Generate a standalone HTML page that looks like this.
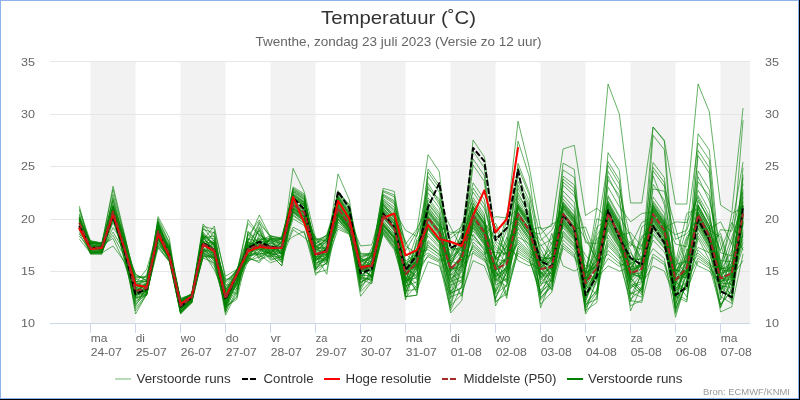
<!DOCTYPE html><html><head><meta charset="utf-8"><title>Temperatuur</title>
<style>html,body{margin:0;padding:0;background:#fff;}body{width:800px;height:400px;overflow:hidden;}svg{display:block;font-family:"Liberation Sans",sans-serif;}</style></head><body>
<svg width="800" height="400" viewBox="0 0 800 400">
<rect x="0" y="0" width="800" height="400" fill="#000"/>
<rect x="0" y="0" width="799" height="399" fill="#8db3ea"/>
<rect x="1" y="1" width="797" height="397" fill="#fff"/>
<rect x="90.5" y="61.5" width="45" height="262" fill="#f2f2f2"/>
<rect x="180.5" y="61.5" width="45" height="262" fill="#f2f2f2"/>
<rect x="270.5" y="61.5" width="45" height="262" fill="#f2f2f2"/>
<rect x="360.5" y="61.5" width="45" height="262" fill="#f2f2f2"/>
<rect x="450.5" y="61.5" width="45" height="262" fill="#f2f2f2"/>
<rect x="540.5" y="61.5" width="45" height="262" fill="#f2f2f2"/>
<rect x="630.5" y="61.5" width="45" height="262" fill="#f2f2f2"/>
<rect x="720.5" y="61.5" width="29.5" height="262" fill="#f2f2f2"/>
<path d="M50 61.5 H750" stroke="#e6e6e6" stroke-width="1"/>
<path d="M50 114.5 H750" stroke="#e6e6e6" stroke-width="1"/>
<path d="M50 166.5 H750" stroke="#e6e6e6" stroke-width="1"/>
<path d="M50 219.5 H750" stroke="#e6e6e6" stroke-width="1"/>
<path d="M50 271.5 H750" stroke="#e6e6e6" stroke-width="1"/>
<path d="M50 323.5 H750" stroke="#ccd6eb" stroke-width="1"/>
<path d="M90.5 323.5 V332.8" stroke="#ccd6eb" stroke-width="1"/>
<path d="M135.5 323.5 V332.8" stroke="#ccd6eb" stroke-width="1"/>
<path d="M180.5 323.5 V332.8" stroke="#ccd6eb" stroke-width="1"/>
<path d="M225.5 323.5 V332.8" stroke="#ccd6eb" stroke-width="1"/>
<path d="M270.5 323.5 V332.8" stroke="#ccd6eb" stroke-width="1"/>
<path d="M315.5 323.5 V332.8" stroke="#ccd6eb" stroke-width="1"/>
<path d="M360.5 323.5 V332.8" stroke="#ccd6eb" stroke-width="1"/>
<path d="M405.5 323.5 V332.8" stroke="#ccd6eb" stroke-width="1"/>
<path d="M450.5 323.5 V332.8" stroke="#ccd6eb" stroke-width="1"/>
<path d="M495.5 323.5 V332.8" stroke="#ccd6eb" stroke-width="1"/>
<path d="M540.5 323.5 V332.8" stroke="#ccd6eb" stroke-width="1"/>
<path d="M585.5 323.5 V332.8" stroke="#ccd6eb" stroke-width="1"/>
<path d="M630.5 323.5 V332.8" stroke="#ccd6eb" stroke-width="1"/>
<path d="M675.5 323.5 V332.8" stroke="#ccd6eb" stroke-width="1"/>
<path d="M720.5 323.5 V332.8" stroke="#ccd6eb" stroke-width="1"/>
<g fill="none" stroke="#008000" stroke-width="1" stroke-opacity="0.6" stroke-linejoin="round">
<path d="M79.30 218.32 L90.55 243.34 L101.80 243.92 L113.05 206.40 L124.30 245.28 L135.55 274.24 L146.80 280.88 L158.05 233.06 L169.30 259.96 L180.55 304.67 L191.80 298.10 L203.05 237.74 L214.30 250.14 L225.55 307.34 L236.80 296.95 L248.05 231.49 L259.30 243.40 L270.55 254.47 L281.80 265.86 L293.05 208.32 L304.30 216.80 L315.55 269.63 L326.80 255.97 L338.05 209.66 L349.30 225.94 L360.55 268.64 L371.80 254.50 L383.05 223.01 L394.30 236.11 L405.55 296.67 L416.80 295.20 L428.05 224.42 L439.30 238.78 L450.55 293.22 L461.80 287.78 L473.05 219.65 L484.30 236.00 L495.55 270.97 L506.80 218.70 L518.05 121.24 L529.30 167.35 L540.55 229.18 L551.80 226.04 L563.05 149.01 L574.30 145.34 L585.55 215.56 L596.80 208.22 L608.05 84.03 L619.30 113.90 L630.55 202.98 L641.80 202.98 L653.05 127.00 L664.30 140.10 L675.55 204.03 L686.80 204.03 L698.05 84.03 L709.30 111.80 L720.55 205.08 L731.80 212.41 L743.05 108.03"/>
<path d="M79.30 206.12 L90.55 248.63 L101.80 250.43 L113.05 232.18 L124.30 250.92 L135.55 277.28 L146.80 276.94 L158.05 228.34 L169.30 254.79 L180.55 306.94 L191.80 302.53 L203.05 241.82 L214.30 248.36 L225.55 303.38 L236.80 272.28 L248.05 256.39 L259.30 251.39 L270.55 238.77 L281.80 254.87 L293.05 227.19 L304.30 232.98 L315.55 265.04 L326.80 260.87 L338.05 218.50 L349.30 231.65 L360.55 279.26 L371.80 283.68 L383.05 225.38 L394.30 239.13 L405.55 277.73 L416.80 290.44 L428.05 261.67 L439.30 265.86 L450.55 296.77 L461.80 292.69 L473.05 260.62 L484.30 265.86 L495.55 294.14 L506.80 285.20 L518.05 248.39 L529.30 257.25 L540.55 297.11 L551.80 286.81 L563.05 243.66 L574.30 253.56 L585.55 308.19 L596.80 292.81 L608.05 245.61 L619.30 258.10 L630.55 252.80 L641.80 269.00 L653.05 248.66 L664.30 258.36 L675.55 317.21 L686.80 279.05 L698.05 236.11 L709.30 254.03 L720.55 283.15 L731.80 284.19 L743.05 246.81"/>
<path d="M79.30 214.79 L90.55 252.15 L101.80 253.24 L113.05 218.14 L124.30 257.55 L135.55 308.17 L146.80 293.62 L158.05 244.55 L169.30 257.62 L180.55 306.29 L191.80 296.91 L203.05 246.60 L214.30 262.05 L225.55 308.06 L236.80 287.91 L248.05 238.97 L259.30 241.82 L270.55 258.28 L281.80 249.07 L293.05 201.49 L304.30 208.76 L315.55 268.44 L326.80 253.91 L338.05 224.98 L349.30 233.33 L360.55 266.89 L371.80 277.13 L383.05 229.02 L394.30 244.16 L405.55 253.35 L416.80 265.24 L428.05 227.50 L439.30 241.83 L450.55 277.42 L461.80 296.32 L473.05 251.11 L484.30 259.35 L495.55 265.51 L506.80 237.21 L518.05 260.62 L529.30 265.86 L540.55 260.72 L551.80 274.91 L563.05 176.17 L574.30 184.93 L585.55 279.59 L596.80 258.84 L608.05 206.83 L619.30 226.69 L630.55 250.66 L641.80 282.75 L653.05 135.31 L664.30 149.68 L675.55 288.16 L686.80 283.73 L698.05 214.31 L709.30 235.27 L720.55 271.96 L731.80 299.78 L743.05 206.32"/>
<path d="M79.30 219.39 L90.55 246.76 L101.80 252.30 L113.05 212.39 L124.30 248.17 L135.55 289.03 L146.80 292.28 L158.05 238.48 L169.30 259.81 L180.55 305.02 L191.80 296.75 L203.05 248.71 L214.30 253.62 L225.55 315.12 L236.80 292.40 L248.05 243.91 L259.30 254.83 L270.55 262.72 L281.80 258.90 L293.05 229.73 L304.30 237.56 L315.55 248.81 L326.80 255.51 L338.05 218.90 L349.30 231.75 L360.55 278.65 L371.80 260.45 L383.05 221.58 L394.30 233.24 L405.55 280.11 L416.80 277.81 L428.05 217.97 L439.30 232.32 L450.55 279.69 L461.80 267.15 L473.05 217.29 L484.30 234.88 L495.55 223.17 L506.80 247.76 L518.05 255.98 L529.30 262.59 L540.55 269.60 L551.80 249.31 L563.05 203.36 L574.30 217.28 L585.55 305.39 L596.80 289.82 L608.05 234.60 L619.30 251.03 L630.55 241.63 L641.80 258.42 L653.05 209.58 L664.30 225.83 L675.55 234.61 L686.80 230.52 L698.05 195.33 L709.30 215.61 L720.55 267.94 L731.80 269.79 L743.05 189.11"/>
<path d="M79.30 217.25 L90.55 248.04 L101.80 247.19 L113.05 207.30 L124.30 251.27 L135.55 290.26 L146.80 288.39 L158.05 227.31 L169.30 247.81 L180.55 302.70 L191.80 293.75 L203.05 250.30 L214.30 256.91 L225.55 304.36 L236.80 270.18 L248.05 238.20 L259.30 250.33 L270.55 253.29 L281.80 256.01 L293.05 208.72 L304.30 217.21 L315.55 251.77 L326.80 264.89 L338.05 211.78 L349.30 227.32 L360.55 268.12 L371.80 263.82 L383.05 201.96 L394.30 212.96 L405.55 265.87 L416.80 279.55 L428.05 168.98 L439.30 185.11 L450.55 267.50 L461.80 260.72 L473.05 140.10 L484.30 156.87 L495.55 235.21 L506.80 254.38 L518.05 205.27 L529.30 221.51 L540.55 269.00 L551.80 233.37 L563.05 265.86 L574.30 271.10 L585.55 265.31 L596.80 269.05 L608.05 187.11 L619.30 206.66 L630.55 221.84 L641.80 213.46 L653.05 212.08 L664.30 227.84 L675.55 221.84 L686.80 222.64 L698.05 197.32 L709.30 222.20 L720.55 250.50 L731.80 222.30 L743.05 250.48"/>
<path d="M79.30 220.12 L90.55 246.02 L101.80 248.79 L113.05 211.36 L124.30 243.90 L135.55 299.46 L146.80 293.75 L158.05 230.85 L169.30 246.92 L180.55 305.26 L191.80 296.21 L203.05 242.73 L214.30 259.81 L225.55 288.04 L236.80 294.17 L248.05 245.46 L259.30 238.31 L270.55 251.61 L281.80 246.05 L293.05 214.77 L304.30 222.87 L315.55 252.92 L326.80 254.54 L338.05 196.08 L349.30 211.87 L360.55 265.95 L371.80 257.13 L383.05 216.72 L394.30 229.82 L405.55 289.33 L416.80 256.47 L428.05 215.31 L439.30 229.67 L450.55 269.00 L461.80 266.68 L473.05 228.40 L484.30 245.55 L495.55 280.60 L506.80 244.43 L518.05 181.45 L529.30 204.76 L540.55 264.59 L551.80 242.74 L563.05 227.85 L574.30 241.07 L585.55 284.58 L596.80 274.11 L608.05 222.91 L619.30 243.34 L630.55 285.75 L641.80 281.60 L653.05 211.01 L664.30 226.49 L675.55 297.27 L686.80 267.16 L698.05 223.09 L709.30 245.18 L720.55 283.64 L731.80 262.82 L743.05 234.45"/>
<path d="M79.30 220.30 L90.55 240.71 L101.80 243.05 L113.05 215.78 L124.30 247.31 L135.55 292.09 L146.80 283.02 L158.05 223.86 L169.30 247.41 L180.55 305.68 L191.80 299.61 L203.05 251.54 L214.30 248.75 L225.55 306.25 L236.80 269.54 L248.05 254.13 L259.30 252.68 L270.55 242.59 L281.80 249.71 L293.05 206.13 L304.30 214.19 L315.55 246.36 L326.80 240.06 L338.05 205.65 L349.30 222.37 L360.55 267.24 L371.80 262.87 L383.05 220.14 L394.30 234.68 L405.55 287.04 L416.80 275.71 L428.05 208.48 L439.30 220.37 L450.55 257.04 L461.80 248.19 L473.05 220.72 L484.30 237.07 L495.55 256.99 L506.80 272.52 L518.05 237.04 L529.30 243.44 L540.55 304.16 L551.80 292.06 L563.05 248.27 L574.30 257.20 L585.55 280.97 L596.80 246.07 L608.05 207.58 L619.30 227.26 L630.55 244.23 L641.80 249.60 L653.05 214.99 L664.30 231.24 L675.55 270.15 L686.80 271.85 L698.05 205.35 L709.30 226.29 L720.55 276.64 L731.80 285.14 L743.05 225.12"/>
<path d="M79.30 216.30 L90.55 244.27 L101.80 247.52 L113.05 204.22 L124.30 237.63 L135.55 276.24 L146.80 277.97 L158.05 224.96 L169.30 254.33 L180.55 298.35 L191.80 294.30 L203.05 246.18 L214.30 241.93 L225.55 297.19 L236.80 278.44 L248.05 246.94 L259.30 247.98 L270.55 246.19 L281.80 261.86 L293.05 195.25 L304.30 204.09 L315.55 247.35 L326.80 238.92 L338.05 192.94 L349.30 207.59 L360.55 263.34 L371.80 278.45 L383.05 204.17 L394.30 214.82 L405.55 270.20 L416.80 263.71 L428.05 228.91 L439.30 242.82 L450.55 250.21 L461.80 247.54 L473.05 212.85 L484.30 229.20 L495.55 260.07 L506.80 246.13 L518.05 213.98 L529.30 230.23 L540.55 227.08 L551.80 244.47 L563.05 195.41 L574.30 207.82 L585.55 283.15 L596.80 259.95 L608.05 219.56 L619.30 240.00 L630.55 272.62 L641.80 264.41 L653.05 208.60 L664.30 224.84 L675.55 273.10 L686.80 258.47 L698.05 225.82 L709.30 246.27 L720.55 278.44 L731.80 258.01 L743.05 120.19"/>
<path d="M79.30 227.31 L90.55 250.15 L101.80 250.60 L113.05 216.54 L124.30 252.87 L135.55 278.41 L146.80 275.88 L158.05 229.77 L169.30 256.06 L180.55 302.52 L191.80 293.11 L203.05 226.37 L214.30 229.20 L225.55 276.34 L236.80 269.31 L248.05 251.13 L259.30 246.03 L270.55 239.80 L281.80 244.18 L293.05 194.00 L304.30 202.07 L315.55 250.40 L326.80 243.92 L338.05 203.74 L349.30 221.92 L360.55 270.67 L371.80 274.65 L383.05 195.17 L394.30 202.26 L405.55 262.62 L416.80 256.95 L428.05 192.79 L439.30 207.86 L450.55 258.35 L461.80 233.50 L473.05 182.91 L484.30 199.41 L495.55 258.98 L506.80 261.54 L518.05 208.26 L529.30 223.91 L540.55 240.72 L551.80 230.09 L563.05 207.65 L574.30 221.80 L585.55 278.09 L596.80 279.18 L608.05 250.37 L619.30 261.15 L630.55 300.60 L641.80 302.54 L653.05 257.11 L664.30 264.62 L675.55 299.75 L686.80 256.79 L698.05 221.10 L709.30 242.06 L720.55 306.61 L731.80 281.22 L743.05 207.03"/>
<path d="M79.30 219.65 L90.55 247.35 L101.80 246.24 L113.05 207.91 L124.30 238.78 L135.55 297.50 L146.80 291.76 L158.05 236.80 L169.30 257.44 L180.55 312.41 L191.80 301.48 L203.05 240.32 L214.30 255.44 L225.55 290.63 L236.80 269.82 L248.05 235.93 L259.30 220.03 L270.55 238.10 L281.80 243.47 L293.05 208.01 L304.30 216.48 L315.55 256.72 L326.80 248.80 L338.05 215.30 L349.30 229.63 L360.55 261.91 L371.80 255.12 L383.05 228.40 L394.30 242.54 L405.55 266.87 L416.80 267.49 L428.05 202.64 L439.30 217.26 L450.55 278.17 L461.80 272.49 L473.05 234.08 L484.30 250.83 L495.55 302.49 L506.80 290.83 L518.05 253.10 L529.30 260.56 L540.55 292.14 L551.80 282.90 L563.05 213.98 L574.30 227.25 L585.55 290.48 L596.80 270.30 L608.05 227.56 L619.30 246.51 L630.55 264.83 L641.80 236.07 L653.05 230.73 L664.30 245.08 L675.55 279.00 L686.80 264.36 L698.05 220.41 L709.30 241.37 L720.55 285.82 L731.80 287.49 L743.05 208.07"/>
<path d="M79.30 221.69 L90.55 252.53 L101.80 250.80 L113.05 207.02 L124.30 250.16 L135.55 284.94 L146.80 289.23 L158.05 234.32 L169.30 258.87 L180.55 309.49 L191.80 299.24 L203.05 238.12 L214.30 249.83 L225.55 311.10 L236.80 271.64 L248.05 257.49 L259.30 262.72 L270.55 249.20 L281.80 253.32 L293.05 189.90 L304.30 197.38 L315.55 245.74 L326.80 251.97 L338.05 215.76 L349.30 229.94 L360.55 260.05 L371.80 270.43 L383.05 196.30 L394.30 204.04 L405.55 250.74 L416.80 231.43 L428.05 154.77 L439.30 171.54 L450.55 276.01 L461.80 265.34 L473.05 164.88 L484.30 181.49 L495.55 264.96 L506.80 240.89 L518.05 141.15 L529.30 176.78 L540.55 261.27 L551.80 254.01 L563.05 169.91 L574.30 177.48 L585.55 276.89 L596.80 218.66 L608.05 223.84 L619.30 244.12 L630.55 271.59 L641.80 244.20 L653.05 222.20 L664.30 239.84 L675.55 296.06 L686.80 302.02 L698.05 204.57 L709.30 225.47 L720.55 279.93 L731.80 274.91 L743.05 223.62"/>
<path d="M79.30 220.86 L90.55 251.08 L101.80 244.61 L113.05 186.21 L124.30 233.37 L135.55 282.23 L146.80 279.15 L158.05 220.53 L169.30 243.08 L180.55 300.47 L191.80 298.47 L203.05 249.43 L214.30 257.83 L225.55 302.55 L236.80 282.56 L248.05 247.32 L259.30 221.79 L270.55 254.15 L281.80 237.45 L293.05 196.91 L304.30 204.78 L315.55 260.63 L326.80 251.62 L338.05 207.34 L349.30 224.09 L360.55 262.98 L371.80 255.96 L383.05 230.75 L394.30 245.50 L405.55 282.33 L416.80 266.89 L428.05 220.13 L439.30 234.49 L450.55 270.93 L461.80 255.22 L473.05 214.76 L484.30 231.11 L495.55 257.81 L506.80 230.20 L518.05 176.08 L529.30 201.03 L540.55 300.27 L551.80 285.31 L563.05 220.79 L574.30 234.94 L585.55 275.92 L596.80 257.76 L608.05 203.85 L619.30 223.27 L630.55 263.76 L641.80 257.28 L653.05 207.51 L664.30 221.35 L675.55 262.55 L686.80 213.46 L698.05 208.80 L709.30 229.76 L720.55 260.69 L731.80 261.88 L743.05 200.60"/>
<path d="M79.30 222.37 L90.55 243.55 L101.80 243.85 L113.05 210.20 L124.30 240.80 L135.55 282.97 L146.80 292.91 L158.05 228.57 L169.30 255.82 L180.55 309.25 L191.80 301.42 L203.05 246.89 L214.30 244.53 L225.55 312.66 L236.80 279.79 L248.05 244.41 L259.30 258.03 L270.55 244.37 L281.80 253.77 L293.05 211.89 L304.30 220.46 L315.55 239.23 L326.80 252.34 L338.05 212.55 L349.30 228.29 L360.55 291.83 L371.80 280.50 L383.05 199.86 L394.30 209.66 L405.55 268.72 L416.80 261.53 L428.05 222.89 L439.30 237.25 L450.55 262.49 L461.80 246.44 L473.05 225.45 L484.30 242.70 L495.55 277.15 L506.80 267.90 L518.05 185.18 L529.30 207.35 L540.55 280.32 L551.80 264.72 L563.05 226.13 L574.30 239.71 L585.55 273.15 L596.80 265.47 L608.05 222.24 L619.30 242.67 L630.55 258.31 L641.80 260.02 L653.05 188.86 L664.30 191.23 L675.55 239.37 L686.80 233.75 L698.05 218.73 L709.30 239.69 L720.55 275.55 L731.80 266.13 L743.05 193.39"/>
<path d="M79.30 228.13 L90.55 246.49 L101.80 245.34 L113.05 213.21 L124.30 250.39 L135.55 291.80 L146.80 291.30 L158.05 226.33 L169.30 248.17 L180.55 300.55 L191.80 294.25 L203.05 244.69 L214.30 240.38 L225.55 298.74 L236.80 272.05 L248.05 242.23 L259.30 252.15 L270.55 237.43 L281.80 245.11 L293.05 196.56 L304.30 205.14 L315.55 247.87 L326.80 247.20 L338.05 198.49 L349.30 214.70 L360.55 276.35 L371.80 265.86 L383.05 194.17 L394.30 200.69 L405.55 244.13 L416.80 229.18 L428.05 205.90 L439.30 222.84 L450.55 261.01 L461.80 242.82 L473.05 213.36 L484.30 229.71 L495.55 216.60 L506.80 218.09 L518.05 209.36 L529.30 225.60 L540.55 255.91 L551.80 270.07 L563.05 211.86 L574.30 226.76 L585.55 262.01 L596.80 273.52 L608.05 215.32 L619.30 235.75 L630.55 232.43 L641.80 246.60 L653.05 218.08 L664.30 234.33 L675.55 264.54 L686.80 261.19 L698.05 208.11 L709.30 229.07 L720.55 221.84 L731.80 244.52 L743.05 204.02"/>
<path d="M79.30 226.83 L90.55 243.80 L101.80 247.72 L113.05 212.07 L124.30 249.59 L135.55 291.25 L146.80 284.51 L158.05 231.28 L169.30 253.58 L180.55 307.21 L191.80 294.58 L203.05 258.00 L214.30 262.96 L225.55 300.88 L236.80 270.88 L248.05 255.88 L259.30 254.36 L270.55 251.15 L281.80 245.74 L293.05 236.52 L304.30 231.27 L315.55 272.99 L326.80 269.86 L338.05 221.73 L349.30 232.49 L360.55 256.88 L371.80 252.43 L383.05 224.81 L394.30 238.00 L405.55 276.40 L416.80 288.12 L428.05 217.41 L439.30 231.76 L450.55 288.04 L461.80 251.22 L473.05 230.94 L484.30 243.81 L495.55 263.19 L506.80 276.63 L518.05 239.80 L529.30 251.20 L540.55 278.22 L551.80 266.40 L563.05 236.24 L574.30 247.69 L585.55 294.21 L596.80 272.88 L608.05 240.31 L619.30 254.70 L630.55 277.55 L641.80 290.23 L653.05 205.91 L664.30 222.15 L675.55 313.59 L686.80 281.26 L698.05 258.02 L709.30 266.23 L720.55 308.04 L731.80 276.77 L743.05 260.62"/>
<path d="M79.30 218.14 L90.55 250.39 L101.80 249.83 L113.05 205.53 L124.30 244.89 L135.55 289.98 L146.80 292.10 L158.05 216.60 L169.30 237.98 L180.55 311.31 L191.80 301.02 L203.05 234.17 L214.30 245.84 L225.55 280.55 L236.80 273.16 L248.05 245.16 L259.30 248.64 L270.55 253.60 L281.80 240.59 L293.05 198.17 L304.30 206.42 L315.55 244.57 L326.80 261.38 L338.05 217.12 L349.30 230.83 L360.55 275.94 L371.80 281.15 L383.05 208.66 L394.30 221.76 L405.55 255.15 L416.80 252.35 L428.05 236.05 L439.30 247.84 L450.55 313.02 L461.80 300.44 L473.05 210.29 L484.30 226.64 L495.55 272.24 L506.80 281.26 L518.05 206.03 L529.30 222.27 L540.55 283.85 L551.80 280.32 L563.05 230.93 L574.30 243.50 L585.55 285.39 L596.80 294.09 L608.05 171.39 L619.30 190.15 L630.55 238.53 L641.80 269.59 L653.05 240.13 L664.30 252.04 L675.55 280.01 L686.80 272.36 L698.05 133.81 L709.30 150.06 L720.55 266.07 L731.80 292.83 L743.05 221.42"/>
<path d="M79.30 225.40 L90.55 252.43 L101.80 247.90 L113.05 235.30 L124.30 256.10 L135.55 304.32 L146.80 293.32 L158.05 242.22 L169.30 259.68 L180.55 310.10 L191.80 296.31 L203.05 254.19 L214.30 265.98 L225.55 305.57 L236.80 280.17 L248.05 251.85 L259.30 229.94 L270.55 257.13 L281.80 244.77 L293.05 204.38 L304.30 212.77 L315.55 255.43 L326.80 274.24 L338.05 205.21 L349.30 221.17 L360.55 275.30 L371.80 275.68 L383.05 207.28 L394.30 220.38 L405.55 271.26 L416.80 292.78 L428.05 176.47 L439.30 192.26 L450.55 268.49 L461.80 257.02 L473.05 227.53 L484.30 243.21 L495.55 269.70 L506.80 298.35 L518.05 206.54 L529.30 222.78 L540.55 266.47 L551.80 268.32 L563.05 219.36 L574.30 234.03 L585.55 311.95 L596.80 277.69 L608.05 265.86 L619.30 271.10 L630.55 267.81 L641.80 251.32 L653.05 162.45 L664.30 177.56 L675.55 268.49 L686.80 236.35 L698.05 224.22 L709.30 244.05 L720.55 233.28 L731.80 271.47 L743.05 214.04"/>
<path d="M79.30 210.06 L90.55 244.08 L101.80 250.96 L113.05 211.72 L124.30 254.68 L135.55 310.76 L146.80 294.43 L158.05 237.72 L169.30 259.48 L180.55 313.60 L191.80 303.06 L203.05 244.19 L214.30 253.21 L225.55 299.89 L236.80 281.92 L248.05 240.21 L259.30 259.40 L270.55 255.31 L281.80 241.09 L293.05 207.63 L304.30 214.94 L315.55 257.74 L326.80 260.40 L338.05 214.51 L349.30 229.12 L360.55 271.77 L371.80 264.33 L383.05 215.03 L394.30 227.25 L405.55 294.80 L416.80 264.59 L428.05 221.27 L439.30 235.63 L450.55 260.53 L461.80 265.97 L473.05 208.95 L484.30 224.68 L495.55 259.41 L506.80 213.46 L518.05 195.68 L529.30 212.52 L540.55 271.23 L551.80 290.38 L563.05 221.57 L574.30 235.71 L585.55 304.23 L596.80 299.10 L608.05 216.25 L619.30 236.69 L630.55 287.27 L641.80 283.69 L653.05 265.86 L664.30 271.10 L675.55 298.41 L686.80 288.30 L698.05 213.56 L709.30 234.52 L720.55 289.73 L731.80 280.64 L743.05 242.11"/>
<path d="M79.30 226.18 L90.55 253.47 L101.80 252.76 L113.05 215.56 L124.30 252.63 L135.55 289.55 L146.80 274.31 L158.05 230.48 L169.30 252.68 L180.55 304.07 L191.80 297.77 L203.05 249.09 L214.30 255.14 L225.55 305.91 L236.80 284.17 L248.05 254.78 L259.30 244.14 L270.55 239.01 L281.80 250.73 L293.05 205.76 L304.30 214.56 L315.55 249.20 L326.80 248.16 L338.05 193.95 L349.30 208.97 L360.55 256.02 L371.80 255.51 L383.05 217.40 L394.30 231.58 L405.55 275.02 L416.80 254.79 L428.05 226.73 L439.30 241.08 L450.55 238.13 L461.80 229.67 L473.05 206.20 L484.30 222.55 L495.55 237.97 L506.80 227.70 L518.05 217.37 L529.30 233.00 L540.55 275.36 L551.80 259.76 L563.05 204.75 L574.30 218.90 L585.55 271.39 L596.80 251.59 L608.05 211.62 L619.30 232.06 L630.55 270.02 L641.80 265.57 L653.05 197.01 L664.30 213.05 L675.55 280.45 L686.80 297.06 L698.05 238.35 L709.30 259.66 L720.55 305.21 L731.80 289.59 L743.05 214.82"/>
<path d="M79.30 221.98 L90.55 250.60 L101.80 252.93 L113.05 245.95 L124.30 261.42 L135.55 294.21 L146.80 294.11 L158.05 239.37 L169.30 259.06 L180.55 307.59 L191.80 300.01 L203.05 251.22 L214.30 264.08 L225.55 306.66 L236.80 299.40 L248.05 252.18 L259.30 228.26 L270.55 254.92 L281.80 252.83 L293.05 215.85 L304.30 223.60 L315.55 266.76 L326.80 245.61 L338.05 195.39 L349.30 210.93 L360.55 258.24 L371.80 261.78 L383.05 198.34 L394.30 207.27 L405.55 281.07 L416.80 273.81 L428.05 218.54 L439.30 232.90 L450.55 285.29 L461.80 279.93 L473.05 241.99 L484.30 253.11 L495.55 252.33 L506.80 253.87 L518.05 207.67 L529.30 224.50 L540.55 258.60 L551.80 278.37 L563.05 198.88 L574.30 211.95 L585.55 289.72 L596.80 276.02 L608.05 205.12 L619.30 225.56 L630.55 270.99 L641.80 278.96 L653.05 201.08 L664.30 217.23 L675.55 285.55 L686.80 241.99 L698.05 199.78 L709.30 220.35 L720.55 269.45 L731.80 263.62 L743.05 218.14"/>
<path d="M79.30 236.05 L90.55 249.22 L101.80 245.12 L113.05 238.43 L124.30 262.72 L135.55 297.12 L146.80 286.35 L158.05 222.55 L169.30 244.99 L180.55 308.46 L191.80 299.48 L203.05 257.18 L214.30 254.58 L225.55 300.38 L236.80 273.35 L248.05 223.41 L259.30 235.41 L270.55 241.66 L281.80 239.44 L293.05 194.45 L304.30 202.57 L315.55 242.82 L326.80 237.12 L338.05 202.95 L349.30 219.60 L360.55 245.95 L371.80 244.90 L383.05 204.56 L394.30 217.06 L405.55 268.02 L416.80 234.47 L428.05 211.83 L439.30 226.19 L450.55 234.57 L461.80 226.90 L473.05 192.11 L484.30 208.55 L495.55 243.31 L506.80 257.51 L518.05 209.81 L529.30 226.06 L540.55 273.16 L551.80 257.82 L563.05 212.61 L574.30 226.01 L585.55 277.63 L596.80 268.52 L608.05 209.36 L619.30 229.79 L630.55 299.21 L641.80 289.17 L653.05 216.33 L664.30 232.57 L675.55 294.27 L686.80 263.89 L698.05 211.58 L709.30 232.54 L720.55 285.21 L731.80 268.12 L743.05 212.70"/>
<path d="M79.30 229.53 L90.55 251.46 L101.80 252.36 L113.05 227.60 L124.30 244.41 L135.55 291.01 L146.80 282.42 L158.05 245.74 L169.30 260.90 L180.55 305.90 L191.80 297.13 L203.05 252.97 L214.30 242.57 L225.55 303.72 L236.80 283.58 L248.05 241.89 L259.30 247.46 L270.55 260.30 L281.80 257.00 L293.05 197.43 L304.30 205.67 L315.55 262.51 L326.80 259.03 L338.05 192.04 L349.30 204.51 L360.55 264.65 L371.80 272.71 L383.05 203.14 L394.30 216.45 L405.55 285.09 L416.80 239.18 L428.05 225.66 L439.30 239.57 L450.55 247.27 L461.80 250.58 L473.05 226.78 L484.30 241.79 L495.55 283.46 L506.80 265.25 L518.05 207.10 L529.30 223.35 L540.55 274.12 L551.80 273.58 L563.05 204.49 L574.30 218.62 L585.55 287.62 L596.80 249.01 L608.05 200.76 L619.30 221.00 L630.55 282.47 L641.80 270.71 L653.05 205.11 L664.30 224.29 L675.55 289.04 L686.80 271.33 L698.05 176.74 L709.30 201.19 L720.55 244.06 L731.80 281.77 L743.05 167.72"/>
<path d="M79.30 226.64 L90.55 254.33 L101.80 254.33 L113.05 214.00 L124.30 250.69 L135.55 306.12 L146.80 287.23 L158.05 237.06 L169.30 256.80 L180.55 305.48 L191.80 301.35 L203.05 253.48 L214.30 258.18 L225.55 302.06 L236.80 279.42 L248.05 245.93 L259.30 244.90 L270.55 239.40 L281.80 238.76 L293.05 205.13 L304.30 213.54 L315.55 260.00 L326.80 250.60 L338.05 173.95 L349.30 199.84 L360.55 271.37 L371.80 258.61 L383.05 188.31 L394.30 191.45 L405.55 263.29 L416.80 270.39 L428.05 211.10 L439.30 225.46 L450.55 232.35 L461.80 232.05 L473.05 151.12 L484.30 167.82 L495.55 272.93 L506.80 282.50 L518.05 192.62 L529.30 214.64 L540.55 276.10 L551.80 275.74 L563.05 205.94 L574.30 219.40 L585.55 295.75 L596.80 276.67 L608.05 258.48 L619.30 266.36 L630.55 260.08 L641.80 258.98 L653.05 202.75 L664.30 218.94 L675.55 244.09 L686.80 246.83 L698.05 190.16 L709.30 210.10 L720.55 290.73 L731.80 275.57 L743.05 235.94"/>
<path d="M79.30 227.77 L90.55 249.61 L101.80 246.96 L113.05 208.25 L124.30 246.77 L135.55 314.07 L146.80 293.89 L158.05 243.09 L169.30 258.62 L180.55 312.58 L191.80 297.58 L203.05 227.52 L214.30 241.52 L225.55 296.16 L236.80 273.51 L248.05 247.65 L259.30 256.40 L270.55 236.34 L281.80 238.19 L293.05 204.03 L304.30 212.41 L315.55 241.31 L326.80 235.36 L338.05 207.69 L349.30 224.99 L360.55 253.38 L371.80 253.66 L383.05 191.69 L394.30 196.78 L405.55 279.07 L416.80 258.54 L428.05 200.19 L439.30 214.92 L450.55 248.74 L461.80 240.11 L473.05 206.97 L484.30 223.32 L495.55 259.60 L506.80 295.69 L518.05 250.88 L529.30 259.00 L540.55 290.31 L551.80 276.60 L563.05 222.22 L574.30 236.37 L585.55 286.00 L596.80 238.21 L608.05 237.95 L619.30 253.19 L630.55 295.54 L641.80 274.70 L653.05 204.37 L664.30 220.60 L675.55 309.82 L686.80 282.59 L698.05 206.23 L709.30 227.19 L720.55 281.05 L731.80 278.96 L743.05 209.16"/>
<path d="M79.30 217.49 L90.55 242.89 L101.80 244.18 L113.05 217.26 L124.30 246.47 L135.55 291.48 L146.80 290.96 L158.05 233.47 L169.30 248.49 L180.55 298.66 L191.80 294.36 L203.05 235.78 L214.30 243.02 L225.55 284.86 L236.80 285.16 L248.05 250.72 L259.30 249.79 L270.55 249.83 L281.80 254.26 L293.05 194.69 L304.30 202.84 L315.55 261.01 L326.80 253.19 L338.05 213.24 L349.30 227.60 L360.55 282.66 L371.80 276.17 L383.05 224.63 L394.30 237.77 L405.55 297.51 L416.80 285.18 L428.05 233.37 L439.30 245.96 L450.55 305.73 L461.80 294.49 L473.05 211.59 L484.30 227.94 L495.55 297.90 L506.80 269.56 L518.05 213.15 L529.30 229.39 L540.55 307.78 L551.80 277.56 L563.05 223.88 L574.30 236.80 L585.55 274.63 L596.80 208.22 L608.05 218.08 L619.30 238.51 L630.55 269.07 L641.80 238.89 L653.05 218.85 L664.30 235.09 L675.55 311.72 L686.80 267.96 L698.05 218.19 L709.30 239.15 L720.55 269.99 L731.80 270.93 L743.05 239.39"/>
<path d="M79.30 227.51 L90.55 245.24 L101.80 249.36 L113.05 215.33 L124.30 242.46 L135.55 303.15 L146.80 289.06 L158.05 218.80 L169.30 242.15 L180.55 311.80 L191.80 299.81 L203.05 236.27 L214.30 238.98 L225.55 287.15 L236.80 269.00 L248.05 262.72 L259.30 233.82 L270.55 243.08 L281.80 247.29 L293.05 188.20 L304.30 195.44 L315.55 251.31 L326.80 250.01 L338.05 190.68 L349.30 206.36 L360.55 254.22 L371.80 254.90 L383.05 207.91 L394.30 221.01 L405.55 275.69 L416.80 261.09 L428.05 252.98 L439.30 259.75 L450.55 255.97 L461.80 235.34 L473.05 235.60 L484.30 247.69 L495.55 266.62 L506.80 280.28 L518.05 214.87 L529.30 231.12 L540.55 294.82 L551.80 269.00 L563.05 182.11 L574.30 191.99 L585.55 242.75 L596.80 243.51 L608.05 202.92 L619.30 224.25 L630.55 301.90 L641.80 271.80 L653.05 227.46 L664.30 243.78 L675.55 308.46 L686.80 284.72 L698.05 249.89 L709.30 261.19 L720.55 304.17 L731.80 290.75 L743.05 216.97"/>
<path d="M79.30 229.02 L90.55 252.87 L101.80 251.57 L113.05 220.45 L124.30 248.66 L135.55 298.33 L146.80 293.21 L158.05 248.04 L169.30 261.67 L180.55 311.66 L191.80 302.04 L203.05 256.54 L214.30 257.97 L225.55 299.61 L236.80 271.82 L248.05 258.06 L259.30 226.70 L270.55 250.61 L281.80 257.25 L293.05 218.73 L304.30 225.55 L315.55 252.24 L326.80 241.26 L338.05 219.85 L349.30 232.00 L360.55 286.28 L371.80 276.64 L383.05 231.79 L394.30 246.82 L405.55 272.57 L416.80 253.20 L428.05 249.58 L439.30 257.36 L450.55 307.84 L461.80 262.54 L473.05 217.96 L484.30 234.31 L495.55 285.13 L506.80 278.68 L518.05 232.29 L529.30 249.25 L540.55 267.01 L551.80 281.27 L563.05 208.21 L574.30 223.00 L585.55 282.35 L596.80 254.40 L608.05 225.67 L619.30 245.30 L630.55 278.25 L641.80 293.12 L653.05 235.12 L664.30 248.33 L675.55 270.48 L686.80 259.99 L698.05 217.52 L709.30 238.48 L720.55 262.24 L731.80 286.41 L743.05 232.42"/>
<path d="M79.30 217.64 L90.55 245.74 L101.80 246.71 L113.05 209.74 L124.30 245.55 L135.55 287.86 L146.80 284.14 L158.05 227.68 L169.30 250.27 L180.55 302.12 L191.80 295.47 L203.05 251.99 L214.30 270.05 L225.55 295.37 L236.80 270.51 L248.05 260.21 L259.30 247.01 L270.55 240.22 L281.80 252.51 L293.05 168.40 L304.30 191.98 L315.55 238.39 L326.80 241.33 L338.05 204.48 L349.30 220.41 L360.55 287.73 L371.80 251.71 L383.05 215.67 L394.30 230.50 L405.55 274.24 L416.80 251.46 L428.05 209.27 L439.30 224.68 L450.55 271.59 L461.80 261.93 L473.05 238.66 L484.30 248.73 L495.55 299.25 L506.80 271.72 L518.05 223.52 L529.30 239.73 L540.55 273.60 L551.80 267.62 L563.05 215.95 L574.30 232.35 L585.55 300.34 L596.80 267.96 L608.05 212.20 L619.30 233.82 L630.55 275.97 L641.80 275.30 L653.05 223.66 L664.30 238.44 L675.55 289.94 L686.80 286.76 L698.05 150.33 L709.30 167.66 L720.55 299.72 L731.80 268.86 L743.05 202.11"/>
<path d="M79.30 223.44 L90.55 253.25 L101.80 252.43 L113.05 216.97 L124.30 248.42 L135.55 284.48 L146.80 283.77 L158.05 226.95 L169.30 246.10 L180.55 300.24 L191.80 293.97 L203.05 233.29 L214.30 246.13 L225.55 292.95 L236.80 272.64 L248.05 249.84 L259.30 244.49 L270.55 247.42 L281.80 237.07 L293.05 193.29 L304.30 201.25 L315.55 254.98 L326.80 247.64 L338.05 196.79 L349.30 212.84 L360.55 278.06 L371.80 279.78 L383.05 233.09 L394.30 248.46 L405.55 291.93 L416.80 268.77 L428.05 256.73 L439.30 262.38 L450.55 310.46 L461.80 285.18 L473.05 223.57 L484.30 239.92 L495.55 301.25 L506.80 293.81 L518.05 246.25 L529.30 255.74 L540.55 265.08 L551.80 257.45 L563.05 218.20 L574.30 230.09 L585.55 310.35 L596.80 302.54 L608.05 208.53 L619.30 228.97 L630.55 292.48 L641.80 297.33 L653.05 225.83 L664.30 242.65 L675.55 307.32 L686.80 248.82 L698.05 265.86 L709.30 271.10 L720.55 284.29 L731.80 294.59 L743.05 215.48"/>
<path d="M79.30 228.66 L90.55 248.85 L101.80 245.83 L113.05 206.05 L124.30 234.70 L135.55 281.37 L146.80 281.75 L158.05 224.44 L169.30 249.15 L180.55 299.95 L191.80 294.19 L203.05 235.06 L214.30 254.27 L225.55 298.35 L236.80 271.12 L248.05 243.43 L259.30 242.98 L270.55 248.39 L281.80 251.72 L293.05 197.84 L304.30 206.08 L315.55 239.92 L326.80 236.07 L338.05 201.94 L349.30 217.42 L360.55 258.45 L371.80 253.02 L383.05 200.64 L394.30 210.88 L405.55 230.23 L416.80 236.57 L428.05 186.68 L439.30 204.40 L450.55 227.08 L461.80 248.57 L473.05 207.47 L484.30 225.29 L495.55 270.51 L506.80 257.05 L518.05 221.34 L529.30 237.59 L540.55 259.98 L551.80 257.06 L563.05 163.16 L574.30 169.44 L585.55 288.20 L596.80 262.79 L608.05 176.29 L619.30 198.93 L630.55 282.01 L641.80 291.58 L653.05 214.52 L664.30 230.23 L675.55 271.57 L686.80 255.81 L698.05 201.51 L709.30 217.74 L720.55 252.91 L731.80 255.84 L743.05 244.70"/>
<path d="M79.30 230.82 L90.55 242.06 L101.80 244.14 L113.05 212.95 L124.30 260.28 L135.55 286.96 L146.80 293.15 L158.05 240.44 L169.30 260.65 L180.55 314.07 L191.80 301.68 L203.05 255.45 L214.30 257.19 L225.55 291.04 L236.80 288.83 L248.05 254.47 L259.30 245.29 L270.55 256.00 L281.80 257.11 L293.05 211.43 L304.30 219.98 L315.55 256.14 L326.80 257.35 L338.05 200.81 L349.30 218.58 L360.55 283.50 L371.80 273.44 L383.05 232.41 L394.30 247.60 L405.55 273.01 L416.80 265.72 L428.05 246.92 L439.30 254.18 L450.55 282.85 L461.80 254.77 L473.05 203.92 L484.30 218.99 L495.55 290.51 L506.80 253.32 L518.05 204.31 L529.30 220.63 L540.55 282.78 L551.80 271.07 L563.05 185.29 L574.30 195.78 L585.55 234.69 L596.80 261.65 L608.05 228.78 L619.30 247.29 L630.55 294.09 L641.80 288.18 L653.05 228.98 L664.30 241.45 L675.55 273.54 L686.80 278.05 L698.05 155.56 L709.30 173.23 L720.55 294.02 L731.80 253.80 L743.05 183.71"/>
<path d="M79.30 233.25 L90.55 253.69 L101.80 252.09 L113.05 194.44 L124.30 236.37 L135.55 288.69 L146.80 285.89 L158.05 237.32 L169.30 249.43 L180.55 308.97 L191.80 300.21 L203.05 241.09 L214.30 243.68 L225.55 309.80 L236.80 274.26 L248.05 240.60 L259.30 215.03 L270.55 237.03 L281.80 242.57 L293.05 204.73 L304.30 213.13 L315.55 244.24 L326.80 234.42 L338.05 198.15 L349.30 215.05 L360.55 270.27 L371.80 267.39 L383.05 209.96 L394.30 223.06 L405.55 279.64 L416.80 255.96 L428.05 204.02 L439.30 218.58 L450.55 263.44 L461.80 251.67 L473.05 215.98 L484.30 231.77 L495.55 249.38 L506.80 263.76 L518.05 212.48 L529.30 228.16 L540.55 244.23 L551.80 261.07 L563.05 190.98 L574.30 202.55 L585.55 279.10 L596.80 263.70 L608.05 254.22 L619.30 263.63 L630.55 266.93 L641.80 264.90 L653.05 175.76 L664.30 204.68 L675.55 282.04 L686.80 290.54 L698.05 260.96 L709.30 268.06 L720.55 281.70 L731.80 276.19 L743.05 174.91"/>
<path d="M79.30 224.91 L90.55 247.72 L101.80 249.60 L113.05 197.87 L124.30 239.78 L135.55 293.00 L146.80 290.05 L158.05 236.09 L169.30 258.05 L180.55 313.14 L191.80 300.70 L203.05 236.95 L214.30 244.24 L225.55 294.48 L236.80 281.59 L248.05 257.78 L259.30 241.29 L270.55 241.08 L281.80 255.18 L293.05 209.18 L304.30 217.68 L315.55 257.19 L326.80 253.53 L338.05 219.36 L349.30 231.87 L360.55 258.74 L371.80 264.85 L383.05 214.15 L394.30 228.13 L405.55 264.56 L416.80 258.02 L428.05 197.82 L439.30 212.66 L450.55 272.14 L461.80 259.06 L473.05 248.86 L484.30 257.81 L495.55 291.79 L506.80 273.04 L518.05 198.17 L529.30 216.37 L540.55 298.42 L551.80 283.52 L563.05 239.71 L574.30 250.44 L585.55 273.67 L596.80 227.14 L608.05 218.88 L619.30 239.32 L630.55 280.79 L641.80 263.24 L653.05 233.52 L664.30 247.14 L675.55 270.74 L686.80 252.32 L698.05 216.38 L709.30 237.34 L720.55 277.50 L731.80 273.20 L743.05 220.73"/>
<path d="M79.30 228.33 L90.55 249.00 L101.80 247.31 L113.05 214.78 L124.30 258.35 L135.55 286.32 L146.80 286.72 L158.05 230.06 L169.30 250.54 L180.55 299.33 L191.80 295.60 L203.05 250.90 L214.30 242.31 L225.55 293.73 L236.80 277.77 L248.05 259.53 L259.30 236.46 L270.55 246.52 L281.80 248.04 L293.05 200.46 L304.30 209.82 L315.55 270.45 L326.80 262.80 L338.05 212.21 L349.30 227.83 L360.55 264.07 L371.80 277.52 L383.05 225.12 L394.30 238.39 L405.55 273.47 L416.80 284.19 L428.05 242.51 L439.30 252.39 L450.55 274.99 L461.80 261.19 L473.05 253.21 L484.30 260.79 L495.55 274.92 L506.80 259.08 L518.05 228.78 L529.30 245.91 L540.55 263.04 L551.80 251.07 L563.05 210.10 L574.30 224.25 L585.55 281.66 L596.80 235.39 L608.05 217.18 L619.30 237.61 L630.55 274.78 L641.80 268.20 L653.05 206.44 L664.30 222.69 L675.55 269.62 L686.80 276.34 L698.05 181.79 L709.30 195.81 L720.55 264.35 L731.80 226.47 L743.05 162.06"/>
<path d="M79.30 222.89 L90.55 244.88 L101.80 246.38 L113.05 214.44 L124.30 247.52 L135.55 285.44 L146.80 285.15 L158.05 225.40 L169.30 250.86 L180.55 309.70 L191.80 296.05 L203.05 243.02 L214.30 257.46 L225.55 298.08 L236.80 281.15 L248.05 239.68 L259.30 231.22 L270.55 248.75 L281.80 259.60 L293.05 201.90 L304.30 210.24 L315.55 259.59 L326.80 258.21 L338.05 216.33 L349.30 230.31 L360.55 281.90 L371.80 275.28 L383.05 213.69 L394.30 226.79 L405.55 283.59 L416.80 270.88 L428.05 240.61 L439.30 251.05 L450.55 294.95 L461.80 252.44 L473.05 158.93 L484.30 175.58 L495.55 278.88 L506.80 286.64 L518.05 227.16 L529.30 242.30 L540.55 271.78 L551.80 282.16 L563.05 246.10 L574.30 255.49 L585.55 278.56 L596.80 275.43 L608.05 179.75 L619.30 195.30 L630.55 279.33 L641.80 261.54 L653.05 217.35 L664.30 233.59 L675.55 277.74 L686.80 273.11 L698.05 215.67 L709.30 236.63 L720.55 269.00 L731.80 266.63 L743.05 220.04"/>
<path d="M79.30 223.20 L90.55 243.14 L101.80 245.65 L113.05 210.44 L124.30 251.77 L135.55 284.72 L146.80 281.31 L158.05 246.70 L169.30 261.33 L180.55 300.77 L191.80 296.47 L203.05 242.25 L214.30 249.11 L225.55 283.17 L236.80 271.29 L248.05 246.65 L259.30 242.58 L270.55 252.48 L281.80 262.70 L293.05 203.72 L304.30 212.09 L315.55 267.39 L326.80 263.41 L338.05 214.14 L349.30 228.87 L360.55 296.25 L371.80 281.92 L383.05 211.91 L394.30 225.01 L405.55 267.31 L416.80 276.58 L428.05 254.78 L439.30 261.02 L450.55 259.27 L461.80 249.76 L473.05 218.53 L484.30 233.64 L495.55 292.89 L506.80 264.69 L518.05 224.11 L529.30 240.15 L540.55 276.66 L551.80 289.26 L563.05 218.71 L574.30 232.86 L585.55 314.07 L596.80 296.13 L608.05 213.38 L619.30 232.64 L630.55 246.37 L641.80 222.49 L653.05 216.87 L664.30 233.11 L675.55 286.51 L686.80 269.98 L698.05 219.58 L709.30 240.54 L720.55 291.86 L731.80 296.50 L743.05 213.46"/>
<path d="M79.30 217.94 L90.55 242.45 L101.80 243.34 L113.05 199.65 L124.30 242.79 L135.55 280.69 L146.80 289.65 L158.05 222.09 L169.30 251.14 L180.55 312.93 L191.80 302.72 L203.05 252.50 L214.30 258.59 L225.55 306.36 L236.80 283.34 L248.05 258.68 L259.30 261.16 L270.55 245.72 L281.80 254.57 L293.05 213.16 L304.30 220.80 L315.55 263.80 L326.80 256.39 L338.05 213.60 L349.30 228.52 L360.55 272.87 L371.80 247.74 L383.05 229.69 L394.30 243.32 L405.55 264.75 L416.80 266.16 L428.05 210.32 L439.30 223.63 L450.55 291.38 L461.80 281.24 L473.05 222.01 L484.30 239.18 L495.55 268.45 L506.80 258.43 L518.05 218.11 L529.30 234.35 L540.55 259.56 L551.80 263.59 L563.05 206.86 L574.30 221.00 L585.55 299.36 L596.80 271.11 L608.05 220.96 L619.30 241.39 L630.55 283.64 L641.80 294.80 L653.05 211.60 L664.30 228.32 L675.55 302.94 L686.80 273.85 L698.05 212.08 L709.30 233.04 L720.55 282.30 L731.80 272.49 L743.05 196.15"/>
<path d="M79.30 234.49 L90.55 241.02 L101.80 242.80 L113.05 201.27 L124.30 241.08 L135.55 283.56 L146.80 269.00 L158.05 229.15 L169.30 249.72 L180.55 301.77 L191.80 294.74 L203.05 229.41 L214.30 232.90 L225.55 290.11 L236.80 273.71 L248.05 219.75 L259.30 234.66 L270.55 245.18 L281.80 252.09 L293.05 192.08 L304.30 199.87 L315.55 254.33 L326.80 245.19 L338.05 211.41 L349.30 227.08 L360.55 262.54 L371.80 271.30 L383.05 205.60 L394.30 217.79 L405.55 241.16 L416.80 269.44 L428.05 225.21 L439.30 240.02 L450.55 266.79 L461.80 237.08 L473.05 206.54 L484.30 222.89 L495.55 240.97 L506.80 250.42 L518.05 211.92 L529.30 228.72 L540.55 257.54 L551.80 258.81 L563.05 214.85 L574.30 229.00 L585.55 227.08 L596.80 257.00 L608.05 165.49 L619.30 183.95 L630.55 262.51 L641.80 279.96 L653.05 167.33 L664.30 182.56 L675.55 305.04 L686.80 274.60 L698.05 215.03 L709.30 235.99 L720.55 273.26 L731.80 270.26 L743.05 217.54"/>
<path d="M79.30 239.03 L90.55 253.00 L101.80 253.70 L113.05 222.04 L124.30 252.19 L135.55 295.72 L146.80 285.40 L158.05 228.04 L169.30 251.78 L180.55 311.55 L191.80 296.60 L203.05 243.85 L214.30 253.99 L225.55 299.21 L236.80 276.81 L248.05 253.00 L259.30 246.67 L270.55 259.16 L281.80 256.50 L293.05 212.23 L304.30 221.75 L315.55 237.04 L326.80 251.19 L338.05 226.93 L349.30 233.84 L360.55 274.86 L371.80 269.53 L383.05 205.02 L394.30 218.69 L405.55 281.78 L416.80 241.27 L428.05 229.73 L439.30 243.40 L450.55 281.59 L461.80 277.04 L473.05 213.89 L484.30 230.24 L495.55 269.00 L506.80 264.25 L518.05 242.12 L529.30 252.83 L540.55 262.37 L551.80 256.45 L563.05 224.65 L574.30 238.54 L585.55 269.20 L596.80 231.96 L608.05 161.62 L619.30 179.89 L630.55 280.17 L641.80 226.98 L653.05 219.84 L664.30 236.08 L675.55 266.65 L686.80 227.22 L698.05 143.06 L709.30 159.91 L720.55 279.08 L731.80 241.96 L743.05 198.08"/>
<path d="M79.30 232.15 L90.55 242.78 L101.80 244.90 L113.05 211.08 L124.30 247.00 L135.55 290.61 L146.80 284.86 L158.05 226.03 L169.30 249.99 L180.55 300.08 L191.80 295.14 L203.05 237.33 L214.30 236.11 L225.55 292.13 L236.80 275.29 L248.05 255.18 L259.30 240.53 L270.55 243.60 L281.80 236.52 L293.05 195.89 L304.30 203.43 L315.55 245.28 L326.80 242.85 L338.05 208.22 L349.30 224.45 L360.55 260.55 L371.80 256.55 L383.05 190.50 L394.30 194.90 L405.55 246.29 L416.80 252.90 L428.05 183.25 L439.30 202.02 L450.55 240.88 L461.80 255.97 L473.05 222.83 L484.30 238.36 L495.55 276.51 L506.80 267.15 L518.05 203.72 L529.30 220.22 L540.55 259.00 L551.80 247.98 L563.05 202.57 L574.30 216.34 L585.55 307.00 L596.80 281.35 L608.05 243.21 L619.30 256.56 L630.55 305.81 L641.80 300.15 L653.05 224.74 L664.30 240.64 L675.55 274.55 L686.80 262.74 L698.05 213.08 L709.30 234.04 L720.55 287.22 L731.80 297.85 L743.05 210.87"/>
<path d="M79.30 223.62 L90.55 242.97 L101.80 246.51 L113.05 209.16 L124.30 241.32 L135.55 301.18 L146.80 294.81 L158.05 232.48 L169.30 252.33 L180.55 300.38 L191.80 294.34 L203.05 247.17 L214.30 231.36 L225.55 297.60 L236.80 272.44 L248.05 249.47 L259.30 249.47 L270.55 247.00 L281.80 247.68 L293.05 190.86 L304.30 198.48 L315.55 249.59 L326.80 237.68 L338.05 210.21 L349.30 226.29 L360.55 290.12 L371.80 268.48 L383.05 224.10 L394.30 237.20 L405.55 300.02 L416.80 262.72 L428.05 245.06 L439.30 255.49 L450.55 254.63 L461.80 223.94 L473.05 200.35 L484.30 216.74 L495.55 281.56 L506.80 269.09 L518.05 188.52 L529.30 209.67 L540.55 267.62 L551.80 259.26 L563.05 222.66 L574.30 237.93 L585.55 255.08 L596.80 269.53 L608.05 230.52 L619.30 248.41 L630.55 276.89 L641.80 259.36 L653.05 220.28 L664.30 236.52 L675.55 283.37 L686.80 269.54 L698.05 170.99 L709.30 189.68 L720.55 284.74 L731.80 301.21 L743.05 229.78"/>
<path d="M79.30 220.57 L90.55 248.25 L101.80 250.01 L113.05 207.57 L124.30 239.28 L135.55 294.77 L146.80 289.88 L158.05 238.80 L169.30 259.57 L180.55 303.52 L191.80 298.85 L203.05 241.56 L214.30 252.31 L225.55 304.81 L236.80 275.11 L248.05 249.09 L259.30 223.71 L270.55 236.05 L281.80 237.85 L293.05 206.50 L304.30 216.10 L315.55 258.13 L326.80 249.50 L338.05 197.30 L349.30 214.30 L360.55 279.96 L371.80 259.43 L383.05 227.93 L394.30 241.94 L405.55 290.91 L416.80 289.18 L428.05 213.50 L439.30 227.86 L450.55 273.15 L461.80 283.19 L473.05 224.10 L484.30 240.45 L495.55 266.01 L506.80 257.95 L518.05 201.49 L529.30 218.67 L540.55 248.66 L551.80 270.52 L563.05 234.43 L574.30 246.27 L585.55 272.34 L596.80 266.50 L608.05 195.59 L619.30 215.58 L630.55 236.05 L641.80 262.12 L653.05 208.04 L664.30 223.76 L675.55 276.25 L686.80 254.59 L698.05 227.78 L709.30 247.48 L720.55 296.36 L731.80 303.51 L743.05 205.55"/>
<path d="M79.30 218.58 L90.55 249.37 L101.80 248.16 L113.05 216.30 L124.30 251.98 L135.55 295.93 L146.80 290.36 L158.05 235.28 L169.30 258.28 L180.55 301.09 L191.80 293.32 L203.05 239.94 L214.30 226.04 L225.55 279.15 L236.80 278.73 L248.05 255.52 L259.30 253.61 L270.55 252.80 L281.80 242.18 L293.05 210.92 L304.30 219.46 L315.55 261.48 L326.80 246.82 L338.05 214.93 L349.30 229.39 L360.55 261.48 L371.80 258.07 L383.05 211.04 L394.30 224.14 L405.55 284.29 L416.80 260.25 L428.05 189.17 L439.30 198.74 L450.55 266.32 L461.80 271.19 L473.05 208.33 L484.30 223.82 L495.55 247.05 L506.80 255.00 L518.05 219.21 L529.30 235.45 L540.55 277.60 L551.80 263.05 L563.05 215.34 L574.30 229.49 L585.55 294.95 L596.80 267.46 L608.05 213.98 L619.30 235.06 L630.55 256.55 L641.80 273.92 L653.05 213.98 L664.30 230.77 L675.55 291.20 L686.80 265.52 L698.05 255.56 L709.30 264.71 L720.55 270.45 L731.80 251.00 L743.05 212.13"/>
<path d="M79.30 221.06 L90.55 248.47 L101.80 246.13 L113.05 206.70 L124.30 244.17 L135.55 297.88 L146.80 295.20 L158.05 235.66 L169.30 257.25 L180.55 302.91 L191.80 293.55 L203.05 232.15 L214.30 245.00 L225.55 281.69 L236.80 270.00 L248.05 248.78 L259.30 239.05 L270.55 237.80 L281.80 239.97 L293.05 191.47 L304.30 199.17 L315.55 248.29 L326.80 239.34 L338.05 200.43 L349.30 216.15 L360.55 277.59 L371.80 279.20 L383.05 225.70 L394.30 238.72 L405.55 294.02 L416.80 259.13 L428.05 219.47 L439.30 233.83 L450.55 270.41 L461.80 253.79 L473.05 202.62 L484.30 220.28 L495.55 275.65 L506.80 268.59 L518.05 221.92 L529.30 238.16 L540.55 293.64 L551.80 279.72 L563.05 232.41 L574.30 244.67 L585.55 274.01 L596.80 260.52 L608.05 204.55 L619.30 224.98 L630.55 274.21 L641.80 272.93 L653.05 209.07 L664.30 225.32 L675.55 284.51 L686.80 260.70 L698.05 253.19 L709.30 263.24 L720.55 288.91 L731.80 274.13 L743.05 221.92"/>
<path d="M79.30 224.28 L90.55 241.28 L101.80 243.54 L113.05 189.54 L124.30 235.66 L135.55 279.27 L146.80 281.89 L158.05 221.54 L169.30 251.38 L180.55 308.66 L191.80 297.30 L203.05 245.51 L214.30 246.45 L225.55 296.78 L236.80 274.53 L248.05 250.18 L259.30 240.91 L270.55 235.47 L281.80 239.93 L293.05 189.06 L304.30 196.42 L315.55 250.86 L326.80 240.70 L338.05 199.56 L349.30 217.04 L360.55 259.30 L371.80 268.89 L383.05 210.45 L394.30 223.55 L405.55 289.98 L416.80 248.17 L428.05 212.51 L439.30 226.87 L450.55 265.55 L461.80 278.35 L473.05 244.77 L484.30 255.01 L495.55 226.12 L506.80 255.99 L518.05 244.26 L529.30 254.34 L540.55 286.27 L551.80 266.91 L563.05 201.73 L574.30 215.35 L585.55 301.83 L596.80 272.22 L608.05 206.25 L619.30 228.02 L630.55 288.90 L641.80 272.40 L653.05 220.87 L664.30 237.11 L675.55 275.09 L686.80 285.82 L698.05 209.39 L709.30 230.35 L720.55 236.80 L731.80 277.29 L743.05 177.74"/>
<path d="M79.30 225.16 L90.55 251.97 L101.80 252.59 L113.05 210.82 L124.30 246.16 L135.55 294.50 L146.80 292.74 L158.05 238.21 L169.30 255.56 L180.55 303.19 L191.80 294.12 L203.05 240.75 L214.30 256.61 L225.55 293.39 L236.80 286.49 L248.05 233.48 L259.30 248.31 L270.55 238.89 L281.80 238.53 L293.05 210.40 L304.30 218.93 L315.55 258.82 L326.80 254.90 L338.05 222.51 L349.30 232.69 L360.55 269.72 L371.80 265.24 L383.05 227.06 L394.30 240.84 L405.55 261.00 L416.80 253.28 L428.05 216.90 L439.30 231.26 L450.55 298.92 L461.80 260.11 L473.05 215.42 L484.30 232.32 L495.55 279.66 L506.80 270.85 L518.05 216.76 L529.30 233.62 L540.55 263.62 L551.80 274.09 L563.05 208.85 L574.30 222.35 L585.55 302.81 L596.80 291.48 L608.05 214.62 L619.30 234.42 L630.55 269.57 L641.80 263.90 L653.05 210.25 L664.30 227.25 L675.55 276.72 L686.80 238.76 L698.05 222.08 L709.30 243.04 L720.55 268.64 L731.80 236.97 L743.05 205.11"/>
<path d="M79.30 208.47 L90.55 241.73 L101.80 244.01 L113.05 209.95 L124.30 244.68 L135.55 284.07 L146.80 280.41 L158.05 231.56 L169.30 255.23 L180.55 311.59 L191.80 300.40 L203.05 243.46 L214.30 251.45 L225.55 311.92 L236.80 290.32 L248.05 260.61 L259.30 257.11 L270.55 252.10 L281.80 260.55 L293.05 202.34 L304.30 210.69 L315.55 243.93 L326.80 238.47 L338.05 197.85 L349.30 213.55 L360.55 257.86 L371.80 266.78 L383.05 224.47 L394.30 237.58 L405.55 264.11 L416.80 254.11 L428.05 172.17 L439.30 188.16 L450.55 245.00 L461.80 258.00 L473.05 188.03 L484.30 204.50 L495.55 258.43 L506.80 252.41 L518.05 163.49 L529.30 192.29 L540.55 237.02 L551.80 254.91 L563.05 213.10 L574.30 228.13 L585.55 296.69 L596.80 280.48 L608.05 152.68 L619.30 170.49 L630.55 273.20 L641.80 277.91 L653.05 184.38 L664.30 200.07 L675.55 258.95 L686.80 275.55 L698.05 232.87 L709.30 250.64 L720.55 270.97 L731.80 213.46 L743.05 207.53"/>
<path d="M79.30 213.59 L90.55 242.66 L101.80 243.72 L113.05 209.45 L124.30 241.98 L135.55 293.53 L146.80 288.64 L158.05 224.24 L169.30 253.31 L180.55 310.30 L191.80 298.69 L203.05 249.81 L214.30 260.80 L225.55 289.10 L236.80 272.83 L248.05 261.40 L259.30 252.97 L270.55 256.81 L281.80 246.44 L293.05 210.07 L304.30 218.60 L315.55 275.29 L326.80 261.82 L338.05 229.18 L349.30 234.42 L360.55 269.00 L371.80 276.83 L383.05 234.42 L394.30 250.14 L405.55 286.13 L416.80 281.76 L428.05 228.12 L439.30 242.26 L450.55 303.19 L461.80 268.13 L473.05 246.55 L484.30 256.23 L495.55 267.51 L506.80 260.24 L518.05 167.66 L529.30 195.18 L540.55 253.74 L551.80 262.15 L563.05 179.16 L574.30 188.49 L585.55 283.87 L596.80 262.16 L608.05 201.93 L619.30 222.23 L630.55 273.73 L641.80 260.83 L653.05 127.00 L664.30 141.15 L675.55 278.54 L686.80 277.08 L698.05 205.70 L709.30 226.66 L720.55 272.67 L731.80 267.42 L743.05 223.11"/>
<path d="M79.30 219.92 L90.55 251.73 L101.80 251.90 L113.05 216.03 L124.30 253.74 L135.55 292.59 L146.80 283.54 L158.05 233.90 L169.30 260.39 L180.55 301.35 L191.80 299.08 L203.05 223.94 L214.30 237.24 L225.55 290.37 L236.80 275.65 L248.05 248.21 L259.30 239.68 L270.55 238.56 L281.80 246.96 L293.05 186.93 L304.30 194.00 L315.55 263.15 L326.80 259.68 L338.05 206.13 L349.30 222.86 L360.55 273.51 L371.80 261.00 L383.05 218.48 L394.30 228.77 L405.55 271.77 L416.80 244.43 L428.05 216.17 L439.30 230.52 L450.55 264.92 L461.80 244.67 L473.05 197.52 L484.30 213.93 L495.55 306.00 L506.80 283.69 L518.05 218.58 L529.30 234.82 L540.55 245.88 L551.80 238.98 L563.05 205.25 L574.30 220.09 L585.55 239.50 L596.80 259.33 L608.05 209.83 L619.30 230.27 L630.55 310.92 L641.80 285.51 L653.05 254.02 L664.30 262.33 L675.55 292.47 L686.80 300.31 L698.05 229.29 L709.30 248.42 L720.55 311.97 L731.80 306.73 L743.05 253.75"/>
<path d="M79.30 218.32 L90.55 243.34 L101.80 243.92 L113.05 206.40 L124.30 245.28 L135.55 274.24 L146.80 280.88 L158.05 233.06 L169.30 259.96 L180.55 304.67 L191.80 298.10 L203.05 237.74 L214.30 250.14 L225.55 307.34 L236.80 296.95 L248.05 231.49 L259.30 243.40 L270.55 254.47 L281.80 265.86 L293.05 208.32 L304.30 216.80 L315.55 269.63 L326.80 255.97 L338.05 209.66 L349.30 225.94 L360.55 268.64 L371.80 254.50 L383.05 223.01 L394.30 236.11 L405.55 296.67 L416.80 295.20 L428.05 224.42 L439.30 238.78 L450.55 293.22 L461.80 287.78 L473.05 219.65 L484.30 236.00 L495.55 270.97 L506.80 262.02 L518.05 215.56 L529.30 231.80 L540.55 234.00 L551.80 223.94 L563.05 219.88 L574.30 233.51 L585.55 286.92 L596.80 274.97 L608.05 197.37 L619.30 217.44 L630.55 270.46 L641.80 266.38 L653.05 170.95 L664.30 186.29 L675.55 227.94 L686.80 266.69 L698.05 247.41 L709.30 252.65 L720.55 229.62 L731.80 231.11 L743.05 191.70"/>
</g>
<path d="M79.30 226.04 L90.55 248.04 L101.80 247.52 L113.05 216.60 L124.30 250.14 L135.55 294.16 L146.80 288.92 L158.05 233.37 L169.30 255.38 L180.55 306.73 L191.80 297.30 L203.05 242.80 L214.30 250.14 L225.55 299.40 L236.80 275.29 L248.05 248.04 L259.30 241.76 L270.55 247.00 L281.80 248.04 L293.05 197.74 L304.30 209.27 L315.55 255.38 L326.80 250.14 L338.05 191.45 L349.30 208.22 L360.55 273.20 L371.80 269.00 L383.05 213.46 L394.30 227.08 L405.55 270.05 L416.80 255.38 L428.05 207.17 L439.30 183.07 L450.55 248.04 L461.80 242.80 L473.05 147.96 L484.30 161.06 L495.55 239.97 L506.80 228.13 L518.05 169.97 L529.30 224.99 L540.55 261.04 L551.80 266.91 L563.05 215.03 L574.30 229.18 L585.55 295.20 L596.80 276.34 L608.05 210.32 L619.30 237.98 L630.55 258.00 L641.80 264.81 L653.05 226.04 L664.30 242.80 L675.55 295.20 L686.80 286.82 L698.05 219.75 L709.30 239.66 L720.55 291.01 L731.80 297.30 L743.05 206.12" fill="none" stroke="#000" stroke-width="2" stroke-dasharray="6,2" stroke-linejoin="round"/>
<path d="M79.30 228.55 L90.55 249.09 L101.80 248.04 L113.05 214.51 L124.30 248.04 L135.55 285.04 L146.80 287.03 L158.05 234.00 L169.30 256.43 L180.55 304.01 L191.80 296.25 L203.05 244.90 L214.30 251.19 L225.55 297.30 L236.80 274.24 L248.05 251.19 L259.30 247.00 L270.55 248.04 L281.80 248.04 L293.05 197.01 L304.30 222.89 L315.55 254.33 L326.80 251.19 L338.05 200.88 L349.30 218.70 L360.55 266.91 L371.80 265.86 L383.05 217.97 L394.30 213.46 L405.55 255.38 L416.80 250.14 L428.05 224.99 L439.30 239.03 L450.55 241.76 L461.80 245.95 L473.05 215.56 L484.30 190.40 L495.55 232.32 L506.80 219.01 L518.05 147.96" fill="none" stroke="#ff0000" stroke-width="2" stroke-linejoin="round" stroke-linecap="round"/>
<path d="M79.30 222.89 L90.55 248.04 L101.80 247.52 L113.05 211.36 L124.30 247.00 L135.55 291.01 L146.80 288.39 L158.05 231.28 L169.30 254.33 L180.55 305.68 L191.80 297.30 L203.05 243.85 L214.30 250.14 L225.55 298.35 L236.80 275.29 L248.05 249.09 L259.30 244.90 L270.55 247.00 L281.80 248.04 L293.05 204.03 L304.30 212.41 L315.55 254.33 L326.80 251.19 L338.05 208.22 L349.30 224.99 L360.55 269.00 L371.80 265.86 L383.05 215.03 L394.30 228.13 L405.55 274.24 L416.80 262.72 L428.05 217.97 L439.30 232.32 L450.55 269.00 L461.80 258.00 L473.05 215.98 L484.30 232.32 L495.55 269.00 L506.80 263.76 L518.05 213.98 L529.30 230.23 L540.55 269.00 L551.80 266.91 L563.05 213.98 L574.30 228.13 L585.55 283.15 L596.80 267.96 L608.05 213.98 L619.30 234.42 L630.55 273.20 L641.80 269.00 L653.05 213.98 L664.30 230.23 L675.55 280.01 L686.80 267.96 L698.05 215.03 L709.30 235.99 L720.55 278.44 L731.80 273.20 L743.05 213.46" fill="none" stroke="#a52a2a" stroke-width="2" stroke-dasharray="6,2" stroke-linejoin="round"/>
<defs><mask id="m"><rect x="0" y="0" width="800" height="400" fill="#fff"/></mask></defs><g mask="url(#m)">
<text x="398.5" y="24" text-anchor="middle" font-size="18.6" fill="#333" textLength="155" lengthAdjust="spacingAndGlyphs">Temperatuur (˚C)</text>
<text x="398.5" y="46" text-anchor="middle" font-size="12.4" fill="#666" textLength="286" lengthAdjust="spacingAndGlyphs">Twenthe, zondag 23 juli 2023 (Versie zo 12 uur)</text>
<text x="35" y="66" text-anchor="end" font-size="11.4" fill="#666" textLength="14" lengthAdjust="spacingAndGlyphs">35</text>
<text x="765" y="66" font-size="11.4" fill="#666" textLength="14" lengthAdjust="spacingAndGlyphs">35</text>
<text x="35" y="118.3" text-anchor="end" font-size="11.4" fill="#666" textLength="14" lengthAdjust="spacingAndGlyphs">30</text>
<text x="765" y="118.3" font-size="11.4" fill="#666" textLength="14" lengthAdjust="spacingAndGlyphs">30</text>
<text x="35" y="170.3" text-anchor="end" font-size="11.4" fill="#666" textLength="14" lengthAdjust="spacingAndGlyphs">25</text>
<text x="765" y="170.3" font-size="11.4" fill="#666" textLength="14" lengthAdjust="spacingAndGlyphs">25</text>
<text x="35" y="222.8" text-anchor="end" font-size="11.4" fill="#666" textLength="14" lengthAdjust="spacingAndGlyphs">20</text>
<text x="765" y="222.8" font-size="11.4" fill="#666" textLength="14" lengthAdjust="spacingAndGlyphs">20</text>
<text x="35" y="275" text-anchor="end" font-size="11.4" fill="#666" textLength="14" lengthAdjust="spacingAndGlyphs">15</text>
<text x="765" y="275" font-size="11.4" fill="#666" textLength="14" lengthAdjust="spacingAndGlyphs">15</text>
<text x="35" y="327" text-anchor="end" font-size="11.4" fill="#666" textLength="14" lengthAdjust="spacingAndGlyphs">10</text>
<text x="765" y="327" font-size="11.4" fill="#666" textLength="14" lengthAdjust="spacingAndGlyphs">10</text>
<text x="90.7" y="342" font-size="11.4" fill="#666" textLength="16.7" lengthAdjust="spacingAndGlyphs">ma</text>
<text x="90.7" y="356" font-size="11.4" fill="#666" textLength="31.2" lengthAdjust="spacingAndGlyphs">24-07</text>
<text x="135.7" y="342" font-size="11.4" fill="#666" textLength="9.2" lengthAdjust="spacingAndGlyphs">di</text>
<text x="135.7" y="356" font-size="11.4" fill="#666" textLength="31.2" lengthAdjust="spacingAndGlyphs">25-07</text>
<text x="180.7" y="342" font-size="11.4" fill="#666" textLength="14.899999999999999" lengthAdjust="spacingAndGlyphs">wo</text>
<text x="180.7" y="356" font-size="11.4" fill="#666" textLength="31.2" lengthAdjust="spacingAndGlyphs">26-07</text>
<text x="225.7" y="342" font-size="11.4" fill="#666" textLength="12.899999999999999" lengthAdjust="spacingAndGlyphs">do</text>
<text x="225.7" y="356" font-size="11.4" fill="#666" textLength="31.2" lengthAdjust="spacingAndGlyphs">27-07</text>
<text x="270.7" y="342" font-size="11.4" fill="#666" textLength="10.2" lengthAdjust="spacingAndGlyphs">vr</text>
<text x="270.7" y="356" font-size="11.4" fill="#666" textLength="31.2" lengthAdjust="spacingAndGlyphs">28-07</text>
<text x="315.7" y="342" font-size="11.4" fill="#666" textLength="11.7" lengthAdjust="spacingAndGlyphs">za</text>
<text x="315.7" y="356" font-size="11.4" fill="#666" textLength="31.2" lengthAdjust="spacingAndGlyphs">29-07</text>
<text x="360.7" y="342" font-size="11.4" fill="#666" textLength="11.7" lengthAdjust="spacingAndGlyphs">zo</text>
<text x="360.7" y="356" font-size="11.4" fill="#666" textLength="31.2" lengthAdjust="spacingAndGlyphs">30-07</text>
<text x="405.7" y="342" font-size="11.4" fill="#666" textLength="16.7" lengthAdjust="spacingAndGlyphs">ma</text>
<text x="405.7" y="356" font-size="11.4" fill="#666" textLength="31.2" lengthAdjust="spacingAndGlyphs">31-07</text>
<text x="450.7" y="342" font-size="11.4" fill="#666" textLength="9.2" lengthAdjust="spacingAndGlyphs">di</text>
<text x="450.7" y="356" font-size="11.4" fill="#666" textLength="31.2" lengthAdjust="spacingAndGlyphs">01-08</text>
<text x="495.7" y="342" font-size="11.4" fill="#666" textLength="14.899999999999999" lengthAdjust="spacingAndGlyphs">wo</text>
<text x="495.7" y="356" font-size="11.4" fill="#666" textLength="31.2" lengthAdjust="spacingAndGlyphs">02-08</text>
<text x="540.7" y="342" font-size="11.4" fill="#666" textLength="12.899999999999999" lengthAdjust="spacingAndGlyphs">do</text>
<text x="540.7" y="356" font-size="11.4" fill="#666" textLength="31.2" lengthAdjust="spacingAndGlyphs">03-08</text>
<text x="585.7" y="342" font-size="11.4" fill="#666" textLength="10.2" lengthAdjust="spacingAndGlyphs">vr</text>
<text x="585.7" y="356" font-size="11.4" fill="#666" textLength="31.2" lengthAdjust="spacingAndGlyphs">04-08</text>
<text x="630.7" y="342" font-size="11.4" fill="#666" textLength="11.7" lengthAdjust="spacingAndGlyphs">za</text>
<text x="630.7" y="356" font-size="11.4" fill="#666" textLength="31.2" lengthAdjust="spacingAndGlyphs">05-08</text>
<text x="675.7" y="342" font-size="11.4" fill="#666" textLength="11.7" lengthAdjust="spacingAndGlyphs">zo</text>
<text x="675.7" y="356" font-size="11.4" fill="#666" textLength="31.2" lengthAdjust="spacingAndGlyphs">06-08</text>
<text x="720.7" y="342" font-size="11.4" fill="#666" textLength="16.7" lengthAdjust="spacingAndGlyphs">ma</text>
<text x="720.7" y="356" font-size="11.4" fill="#666" textLength="31.2" lengthAdjust="spacingAndGlyphs">07-08</text>
<path d="M115 379 H131" stroke="#008000" stroke-width="0.56"/>
<text x="136.5" y="383" font-size="12.4" fill="#333" textLength="94.2" lengthAdjust="spacingAndGlyphs">Verstoorde runs</text>
<path d="M242 379 H258" stroke="#000" stroke-width="2" stroke-dasharray="6,2"/>
<text x="263.5" y="383" font-size="12.4" fill="#333" textLength="50" lengthAdjust="spacingAndGlyphs">Controle</text>
<path d="M324 379 H340" stroke="#f00" stroke-width="2"/>
<text x="345.5" y="383" font-size="12.4" fill="#333" textLength="86" lengthAdjust="spacingAndGlyphs">Hoge resolutie</text>
<path d="M442 379 H458" stroke="#a52a2a" stroke-width="2" stroke-dasharray="6,2"/>
<text x="463.5" y="383" font-size="12.4" fill="#333" textLength="93" lengthAdjust="spacingAndGlyphs">Middelste (P50)</text>
<path d="M567 379 H583" stroke="#008000" stroke-width="2"/>
<text x="588" y="383" font-size="12.4" fill="#333" textLength="94.5" lengthAdjust="spacingAndGlyphs">Verstoorde runs</text>
<text x="790" y="394.5" text-anchor="end" font-size="9.3" fill="#999" textLength="87" lengthAdjust="spacingAndGlyphs">Bron: ECMWF/KNMI</text>
</g>
</svg></body></html>
